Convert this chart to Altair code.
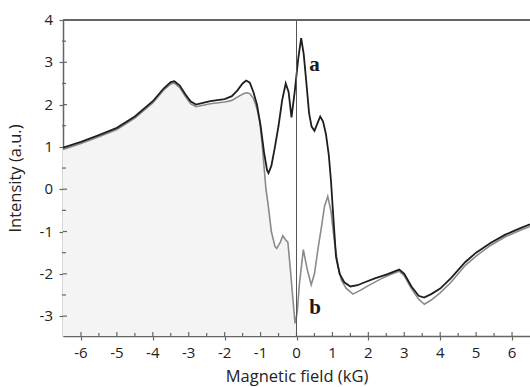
import altair as alt
import pandas as pd

# Curve a (black)
xa = [-6.5, -6.0, -5.5, -5.0, -4.5, -4.0, -3.7, -3.5, -3.4, -3.25, -3.1, -2.95, -2.8,
      -2.4, -2.0, -1.8, -1.65, -1.5, -1.4, -1.3, -1.2, -1.1, -1.0, -0.9, -0.82, -0.78,
      -0.7, -0.6, -0.5, -0.4, -0.3, -0.22, -0.14, -0.05, 0.05, 0.13, 0.2, 0.27, 0.35,
      0.42, 0.5, 0.58, 0.66, 0.74, 0.82, 0.9, 0.96, 1.02, 1.1, 1.2, 1.33, 1.5, 1.7,
      1.9, 2.2, 2.5, 2.86, 3.0, 3.2, 3.4, 3.55, 3.75, 4.0, 4.3, 4.7, 5.0, 5.4, 5.8,
      6.2, 6.5]
ya = [0.98, 1.12, 1.28, 1.45, 1.72, 2.08, 2.38, 2.53, 2.55, 2.45, 2.25, 2.08, 2.0,
      2.08, 2.13, 2.2, 2.33, 2.5, 2.57, 2.52, 2.3, 2.0, 1.5, 0.85, 0.45, 0.38,
      0.55, 1.0, 1.5, 2.1, 2.5, 2.3, 1.7, 2.3, 3.1, 3.57, 3.2, 2.56, 1.8,
      1.48, 1.38, 1.55, 1.72, 1.6, 1.3, 0.8, 0.2, -0.6, -1.6, -2.0, -2.2, -2.3, -2.27,
      -2.2, -2.1, -2.02, -1.9, -2.0, -2.3, -2.52, -2.56, -2.48, -2.35, -2.1, -1.72,
      -1.5, -1.27, -1.08, -0.93, -0.83]

# Curve b (gray)
xb = [-6.5, -6.0, -5.5, -5.0, -4.5, -4.0, -3.7, -3.5, -3.4, -3.25, -3.1, -2.95, -2.8,
      -2.4, -2.0, -1.8, -1.6, -1.45, -1.38, -1.3, -1.2, -1.1, -1.02, -0.95, -0.9,
      -0.85, -0.8, -0.7, -0.6, -0.55, -0.45, -0.38, -0.3, -0.24, -0.17, -0.1, -0.04,
      0.0, 0.02, 0.08, 0.19, 0.3, 0.41, 0.5, 0.6, 0.69, 0.78, 0.87, 0.96, 1.05, 1.15,
      1.25, 1.38, 1.57, 1.8, 2.0, 2.35, 2.6, 2.86, 3.0, 3.2, 3.4, 3.56, 3.75, 4.0,
      4.3, 4.7, 5.0, 5.4, 5.8, 6.2, 6.5]
yb = [0.94, 1.08, 1.24, 1.41, 1.68, 2.04, 2.34, 2.49, 2.51, 2.4, 2.2, 2.02, 1.95,
      2.02, 2.06, 2.1, 2.2, 2.27, 2.28, 2.26, 2.15, 1.9, 1.6, 1.0, 0.5,
      0.0, -0.3, -1.0, -1.35, -1.4, -1.25, -1.1, -1.2, -1.25, -1.9, -2.6, -3.17,
      -3.0, -2.9, -2.25, -1.43, -1.9, -2.26, -2.0, -1.4, -0.92, -0.4, -0.17, -0.52,
      -1.2, -1.78, -2.15, -2.34, -2.48, -2.38, -2.28, -2.12, -2.02, -1.94, -2.05,
      -2.35, -2.6, -2.72, -2.62, -2.45, -2.2, -1.8, -1.58, -1.33, -1.13, -0.98, -0.88]

label_text = ["a", "b"]
label_x = [0.5, 0.52]
label_y = [2.94, -2.8]

major_x = [-6, -5, -4, -3, -2, -1, 0, 1, 2, 3, 4, 5, 6]
major_x_labels = ["-6", "-5", "-4", "-3", "-2", "-1", "0", "1", "2", "3", "4", "5", "6"]
minor_x = [-5.5, -4.5, -3.5, -2.5, -1.5, -0.5, 0.5, 1.5, 2.5, 3.5, 4.5, 5.5]
major_y = [-3, -2, -1, 0, 1, 2, 3, 4]
major_y_labels = ["-3", "-2", "-1", "0", "1", "2", "3", "4"]
minor_y = [-2.5, -1.5, -0.5, 0.5, 1.5, 2.5, 3.5]

XDOM = [-6.5, 6.5]
YDOM = [-3.47, 4.0]
W, H = 467, 316

df_a = pd.DataFrame({"x": xa, "y": ya})
df_b = pd.DataFrame({"x": xb, "y": yb})
df_lab = pd.DataFrame({"x": label_x, "y": label_y, "t": label_text})
df_mx = pd.DataFrame({"x": major_x, "t": major_x_labels})
df_nx = pd.DataFrame({"x": minor_x})
df_my = pd.DataFrame({"y": major_y, "t": major_y_labels})
df_ny = pd.DataFrame({"y": minor_y})

FONT = "Open Sans"
AX = "#666"
TXT = "#222"

xscale = alt.Scale(domain=XDOM, nice=False, zero=False)
yscale = alt.Scale(domain=YDOM, nice=False, zero=False)

xaxis = alt.Axis(values=major_x, title="Magnetic field (kG)", grid=False, labels=False,
                 tickSize=4, tickColor=AX, domainColor=AX, domainWidth=1.5,
                 tickWidth=1.2, titleFont=FONT, titleFontSize=16.5,
                 titleFontWeight="normal", titleColor=TXT, titlePadding=28)
yaxis = alt.Axis(values=major_y, title="Intensity (a.u.)", grid=False, labels=False,
                 tickSize=4, tickColor=AX, domainColor=AX, domainWidth=1.5,
                 tickWidth=1.2, titleFont=FONT, titleFontSize=16.5,
                 titleFontWeight="normal", titleColor=TXT, titlePadding=35)

fill = alt.Chart(df_b).transform_filter("datum.x <= 0").mark_area(
    color="#f4f4f4", opacity=1).encode(
    x=alt.X("x:Q", scale=xscale, axis=xaxis),
    y=alt.Y("y:Q", scale=yscale, axis=yaxis),
    y2=alt.datum(YDOM[0]),
)

# inner parts of ticks (major ticks cross the axis line, minor ticks point inward)
tx_major = alt.Chart(df_mx).mark_rule(color=AX, strokeWidth=1.2).encode(
    x=alt.X("x:Q", scale=xscale), y=alt.value(H), y2=alt.value(H - 4))
tx_minor = alt.Chart(df_nx).mark_rule(color=AX, strokeWidth=1.2).encode(
    x=alt.X("x:Q", scale=xscale), y=alt.value(H), y2=alt.value(H - 3))
ty_major = alt.Chart(df_my).mark_rule(color=AX, strokeWidth=1.2).encode(
    y=alt.Y("y:Q", scale=yscale), x=alt.value(0), x2=alt.value(4))
ty_minor = alt.Chart(df_ny).mark_rule(color=AX, strokeWidth=1.2).encode(
    y=alt.Y("y:Q", scale=yscale), x=alt.value(-1), x2=alt.value(3))

# tick labels
lx = alt.Chart(df_mx).mark_text(font=FONT, fontSize=15, color=TXT, baseline="middle",
                                align="center").encode(
    x=alt.X("x:Q", scale=xscale), y=alt.value(H + 17), text="t:N")
ly = alt.Chart(df_my).mark_text(font=FONT, fontSize=15, color=TXT, baseline="middle",
                                align="right").encode(
    y=alt.Y("y:Q", scale=yscale), x=alt.value(-10), text="t:N")

line_b = alt.Chart(df_b).mark_line(color="#8a8a8a", strokeWidth=1.6, clip=True).encode(
    x=alt.X("x:Q", scale=xscale), y=alt.Y("y:Q", scale=yscale))
line_a = alt.Chart(df_a).mark_line(color="#1e1e1e", strokeWidth=1.8, clip=True).encode(
    x=alt.X("x:Q", scale=xscale), y=alt.Y("y:Q", scale=yscale))

vline = alt.Chart(df_a).mark_rule(color="#555", strokeWidth=1).encode(x=alt.datum(0))
top = alt.Chart(df_a).mark_rule(color=AX, strokeWidth=1.5).encode(y=alt.datum(4.0))

labels = alt.Chart(df_lab).mark_text(font="Liberation Serif", fontWeight="bold",
                                     fontSize=21, color="#1a1a1a").encode(
    x=alt.X("x:Q", scale=xscale), y=alt.Y("y:Q", scale=yscale), text="t:N")

chart = alt.layer(fill, tx_major, tx_minor, ty_major, ty_minor, lx, ly, line_b, line_a,
                  vline, top, labels).properties(
    width=W, height=H,
    autosize=alt.AutoSizeParams(type="none"),
    padding={"left": 63, "top": 20, "right": 0, "bottom": 51},
    background="white",
).configure_view(stroke=None)

chart.save("out.html", embed_options={"renderer": "svg", "actions": False})
